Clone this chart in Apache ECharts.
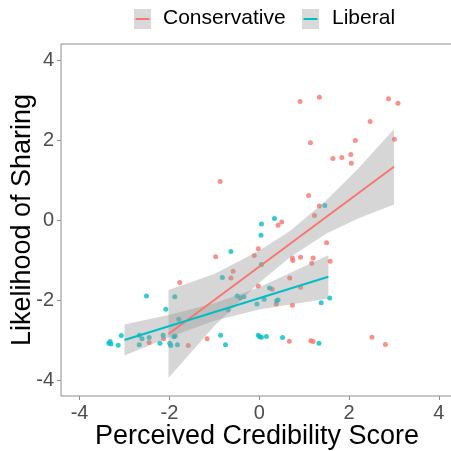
<!DOCTYPE html>
<html><head><meta charset="utf-8">
<script src="https://cdn.jsdelivr.net/npm/echarts@6/dist/echarts.min.js"></script>
<style>html,body{margin:0;padding:0;background:#fff}#c{width:451px;height:451px}</style>
</head><body><div id="c"></div>
<script>
// ---- data ----
var consX = [0.91,1.34,2.88,3.09,2.47,1.14,2.14,3.01,1.64,1.84,2.04,2.05,1.10,1.34,1.23,0.50,0.42,-0.87,
  -2.45,-2.13,-1.77,-1.58,-1.16,-0.97,-0.58,-0.63,-0.11,-0.02,-0.02,
  1.50,0.74,0.75,0.92,1.20,1.17,1.58,0.68,0.29,0.92,0.38,0.74,0.67,1.15,1.20,2.51,2.81];
var consY = [2.96,3.07,3.03,2.92,2.46,1.93,1.99,2.02,1.54,1.56,1.64,1.42,0.61,0.35,0.11,-0.05,-0.13,0.96,
  -3.06,-2.97,-1.56,-3.14,-2.97,-0.92,-1.28,-1.45,-0.89,-0.72,-1.65,
  -0.57,-0.95,-1.01,-0.93,-0.95,-1.08,-1.03,-1.45,-1.73,-1.68,-2.10,-2.13,-3.03,-3.02,-3.04,-2.93,-3.11];
var libX = [1.46,0.34,0.05,0.04,
  -3.32,-3.35,-3.30,-3.14,-3.07,-2.67,-2.61,-2.67,-2.45,-2.51,-2.21,-2.14,-2.08,-1.88,-1.79,-1.99,-1.97,-1.90,-1.87,-1.82,
  -0.86,-0.75,-0.82,-0.63,-0.49,-0.42,-0.34,-0.69,-0.05,-0.02,0.01,0.05,0.16,0.52,1.33,
  0.05,0.23,0.11,0.39,0.42,1.38,1.57];
var libY = [0.36,0.04,-0.10,-0.38,
  -3.04,-3.08,-3.10,-3.13,-2.89,-2.88,-2.97,-3.12,-2.94,-1.90,-3.08,-2.88,-2.23,-1.92,-2.48,-3.08,-3.14,-2.92,-2.90,-3.12,
  -2.88,-3.12,-1.44,-0.79,-1.90,-1.95,-1.92,-2.25,-2.10,-2.88,-2.92,-2.93,-2.91,-2.94,-3.08,
  -1.11,-1.70,-1.98,-2.02,-2.00,-2.07,-1.95];
// fitted lines
var consFitX = [-2.02, 3.0];
var consFitY = [-2.85, 1.33];
var libFitX = [-3.0, 1.54];
var libFitY = [-3.0, -1.42];
// confidence bands
var consBandX  = [-2.02, -1.0, 0.0, 0.7, 1.5, 2.2, 3.0];
var consBandLo = [-3.95, -2.65, -1.57, -0.92, -0.34, 0.04, 0.39];
var consBandHi = [-1.75, -1.35, -0.77, -0.26, 0.50, 1.28, 2.27];
var libBandX  = [-3.0, -2.0, -1.0, 0.0, 1.54];
var libBandLo = [-3.39, -2.93, -2.52, -2.24, -1.96];
var libBandHi = [-2.61, -2.37, -2.08, -1.68, -0.88];
var xTicks = [-4, -2, 0, 2, 4];
var yTicks = [-4, -2, 0, 2, 4];
var groups = ['Conservative', 'Liberal'];
var colors = ['#F8766D', '#00BFC4'];

function zip(a, b) { return a.map(function (v, i) { return [v, b[i]]; }); }
function zip3(a, b, c) { return a.map(function (v, i) { return [v, b[i], c[i]]; }); }

function bandSeries(rows) {
  return {
    type: 'custom', z: 3, silent: true,
    data: rows,
    renderItem: function (params, api) {
      if (params.dataIndex !== 0) return null;
      var pts = [];
      for (var i = 0; i < rows.length; i++) pts.push(api.coord([rows[i][0], rows[i][2]]));
      for (var j = rows.length - 1; j >= 0; j--) pts.push(api.coord([rows[j][0], rows[j][1]]));
      return { type: 'polygon', shape: { points: pts }, style: { fill: 'rgba(153,153,153,0.4)' } };
    }
  };
}

var font = 'Liberation Sans, Arial, Helvetica, sans-serif';
var chart = echarts.init(document.getElementById('c'), null, { renderer: 'canvas' });
chart.setOption({
  animation: false,
  grid: { left: 61, top: 44, right: -2, bottom: 55, show: true, borderColor: '#8c8c8c', borderWidth: 1,
          containLabel: false, outerBoundsMode: 'none' },
  xAxis: {
    type: 'value', min: -4.413, max: 4.315,
    name: 'Perceived Credibility Score', nameLocation: 'middle', nameGap: 27, nameMoveOverlap: false,
    nameTextStyle: { fontSize: 27, color: '#000', fontFamily: font },
    splitLine: { show: false }, axisLine: { show: false, onZero: false },
    axisTick: { show: true, length: 4, lineStyle: { color: '#8c8c8c' }, customValues: xTicks },
    axisLabel: { fontSize: 20, color: '#4D4D4D', fontFamily: font, margin: 7, customValues: xTicks }
  },
  yAxis: {
    type: 'value', min: -4.4, max: 4.4,
    name: 'Likelihood of Sharing', nameLocation: 'middle', nameGap: 25, nameMoveOverlap: false,
    nameTextStyle: { fontSize: 27, color: '#000', fontFamily: font },
    splitLine: { show: false }, axisLine: { show: false, onZero: false },
    axisTick: { show: true, length: 4, lineStyle: { color: '#8c8c8c' }, customValues: yTicks },
    axisLabel: { fontSize: 20, color: '#4D4D4D', fontFamily: font, margin: 7, customValues: yTicks }
  },
  graphic: [
    { type: 'rect', shape: { x: 134, y: 9, width: 17, height: 20 }, style: { fill: '#d9d9d9' } },
    { type: 'line', shape: { x1: 135.5, y1: 19, x2: 149.5, y2: 19 }, style: { stroke: colors[0], lineWidth: 2 } },
    { type: 'text', left: 163, top: 8, style: { text: groups[0], fontSize: 21, fill: '#000', fontFamily: font } },
    { type: 'rect', shape: { x: 302, y: 9, width: 17, height: 20 }, style: { fill: '#d9d9d9' } },
    { type: 'line', shape: { x1: 303.5, y1: 19, x2: 317.5, y2: 19 }, style: { stroke: colors[1], lineWidth: 2 } },
    { type: 'text', left: 332, top: 8, style: { text: groups[1], fontSize: 21, fill: '#000', fontFamily: font } }
  ],
  series: [
    { name: groups[0], type: 'scatter', z: 2, symbolSize: 5, itemStyle: { color: colors[0] }, data: zip(consX, consY) },
    { name: groups[1], type: 'scatter', z: 2, symbolSize: 5, itemStyle: { color: colors[1] }, data: zip(libX, libY) },
    bandSeries(zip3(consBandX, consBandLo, consBandHi)),
    bandSeries(zip3(libBandX, libBandLo, libBandHi)),
    { type: 'line', z: 4, symbol: 'none', lineStyle: { color: colors[0], width: 2 }, data: zip(consFitX, consFitY) },
    { type: 'line', z: 4, symbol: 'none', lineStyle: { color: colors[1], width: 2 }, data: zip(libFitX, libFitY) }
  ]
});
</script></body></html>
